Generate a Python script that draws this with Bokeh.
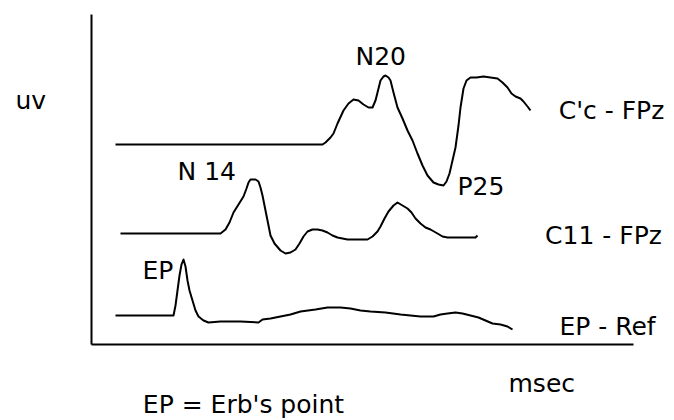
from bokeh.plotting import figure
from bokeh.models import Range1d, ColumnDataSource
from bokeh.core.properties import value
from bokeh.embed import file_html
from bokeh.resources import INLINE

# ---- data (time in arbitrary msec units, amplitude in arbitrary uV units) ----
cc_t = [24, 231, 234, 239, 242, 246, 252, 257, 262, 267, 272, 277, 281, 284, 286, 289, 292, 294,
        297, 299, 302, 306, 311, 316, 321, 326, 331, 336, 342, 347, 352, 355, 358, 361, 364, 367,
        369, 372, 375, 379, 385, 392, 399, 406, 411, 416, 420, 424, 429, 432, 436, 439]
cc_v = [0, 0, 2, 7, 11, 21, 34, 41, 45, 44, 40, 37, 37, 44, 52, 64, 68, 69,
        67, 64, 52, 37, 26, 14, 4, -9, -21, -31, -38, -40, -41, -37, -29, -16, -3, 19,
        37, 56, 64, 67, 67, 68, 67, 66, 62, 57, 51, 48, 46, 43, 38, 34]

c11_t = [29, 129, 134, 138, 142, 147, 152, 155, 157, 159, 164, 167, 169, 171, 173, 175, 177, 179,
         183, 189, 194, 199, 204, 208, 212, 216, 221, 226, 231, 236, 241, 246, 251, 256, 266, 276,
         281, 286, 289, 293, 297, 302, 306, 311, 316, 320, 324, 329, 334, 339, 346, 351, 356, 369,
         384, 386]
c11_v = [0, 0, 4, 11, 21, 29, 37, 45, 51, 54, 54, 52, 46, 38, 28, 18, 8, -2,
         -10, -17, -20, -19, -16, -10, -3, 2, 4, 4, 3, 1, -2, -4, -5, -6, -6, -6,
         -3, 2, 7, 15, 22, 28, 31, 28, 25, 21, 15, 10, 6, 4, 0, -3, -4, -4,
         -4, -2]

ep_t = [24, 82, 84, 86, 88, 90, 92, 94, 96, 98, 101, 104, 107, 112, 117, 129, 149, 167, 171, 179,
        189, 199, 209, 224, 236, 249, 259, 269, 279, 294, 309, 329, 342, 349, 356, 364, 371, 379,
        387, 394, 401, 409, 416, 421]
ep_v = [0, 0, 10, 25, 40, 51, 56, 49, 35, 25, 15, 5, -1, -5, -7, -6, -6, -7, -4, -3,
        -1, 1, 4, 6, 8, 8, 7, 5, 4, 3, 1, -1, -1, 1, 2, 3, 2, 0,
        -2, -5, -8, -9, -11, -14]

trace_names = ["C'c - FPz", "C11 - FPz", "EP - Ref"]
trace_offsets = [200, 111, 29]

peak_names = ["N20", "P25", "N 14", "EP"]

axis_t = [0, 542]
axis_v = [0, 330]

# ---- figure ----
p = figure(width=674, height=420, output_backend="svg", toolbar_location=None,
           x_range=Range1d(-91, 583), y_range=Range1d(-76, 344),
           x_axis_type=None, y_axis_type=None, min_border=0)
p.outline_line_color = None
p.xgrid.visible = False
p.ygrid.visible = False
p.background_fill_color = "white"
p.border_fill_color = "white"

# axes
p.segment(x0=[axis_t[0], axis_t[0]], y0=[axis_v[0], axis_v[0]],
          x1=[axis_t[0], axis_t[1]], y1=[axis_v[1], axis_v[0]],
          line_color="black", line_width=2)

for ts, vs, off in zip([cc_t, c11_t, ep_t], [cc_v, c11_v, ep_v], trace_offsets):
    p.line(ts, [v + off for v in vs], line_color="black", line_width=2, line_join="round")

font = value("DejaVu Sans")
left_src = ColumnDataSource(dict(
    x=[-76, 264, 366, 86, 51, 417],
    y=[244, 288, 158, 173, 74, -39],
    text=["uv"] + peak_names + ["msec"],
))
p.text(x="x", y="y", text="text", source=left_src, text_font=font, text_font_size="25px",
       text_align="left", text_baseline="alphabetic", text_color="black")

center_src = ColumnDataSource(dict(
    x=[520, 512, 516, 152],
    y=[234, 109, 18, -60],
    text=trace_names + ["EP = Erb's point"],
))
p.text(x="x", y="y", text="text", source=center_src, text_font=font, text_font_size="25px",
       text_align="center", text_baseline="alphabetic", text_color="black")

open("out.html", "w").write(file_html(p, INLINE))
